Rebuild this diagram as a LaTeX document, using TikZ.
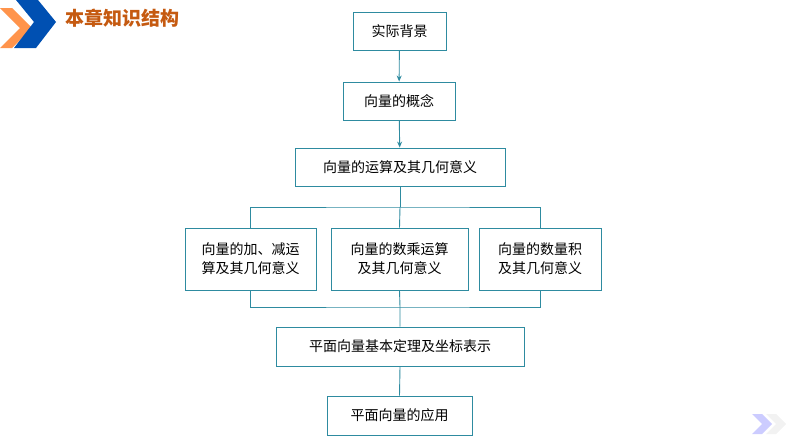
\documentclass[tikz,border=0pt]{standalone}
\usepackage{fontspec}
\setmainfont{Noto Sans CJK SC}
\newfontfamily\cjkb[BoldFont=*]{Noto Sans CJK SC}
\usetikzlibrary{arrows.meta}
\definecolor{teal}{HTML}{2E8BA0}
\definecolor{hdr}{HTML}{C55A11}
\tikzset{box/.style={draw=teal,line width=0.9pt,fill=white,align=center,font=\fontsize{14}{19}\selectfont,inner sep=0pt},
 ln/.style={teal,line width=0.9pt},
 ar/.style={ln,-{Stealth[length=6pt,width=5pt]}}}
\begin{document}
\begin{tikzpicture}[x=1pt,y=-1pt]
\useasboundingbox (0,0) rectangle (794,447);
\fill[orange!80!red!70] (0,8)--(12,8)--(32,28)--(12,48)--(0,48)--(20,28)--cycle;
\fill[blue!55!cyan!70!black] (16,0)--(38,0)--(56,22)--(36,48)--(14,48)--(34,22)--cycle;
\node[anchor=west,text=hdr,font=\fontsize{19}{22}\selectfont\bfseries] (h) at (62,18) {本章知识结构};
\fill[blue!20] (752,414)--(762,414)--(772,424)--(762,434)--(752,434)--(762,424)--cycle;
\fill[gray!10] (766,414)--(776,414)--(786,424)--(776,434)--(766,434)--(776,424)--cycle;
\node[box,minimum width=93,minimum height=38] (a) at (399.5,31) {实际背景};
\node[box,minimum width=112,minimum height=38] (b) at (399,101) {向量的概念};
\node[box,minimum width=210,minimum height=38] (c) at (400,167) {向量的运算及其几何意义};
\node[box,minimum width=131,minimum height=62] (l) at (250.5,259) {向量的加、减运\\算及其几何意义};
\node[box,minimum width=137,minimum height=62] (m) at (399.5,259) {向量的数乘运算\\及其几何意义};
\node[box,minimum width=122,minimum height=62] (r) at (540,259) {向量的数量积\\及其几何意义};
\node[box,minimum width=248,minimum height=39] (d) at (400,346.5) {平面向量基本定理及坐标表示};
\node[box,minimum width=145,minimum height=39] (e) at (399.5,415.5) {平面向量的应用};
\draw[ar] (a) -- (b);
\draw[ar] (b) -- (c);
\coordinate (t) at (400,207);
\coordinate (u) at (400,307);
\draw[ln] (c.south) -- (t);
\draw[ln] (l.north) |- (t) -| (r.north);
\draw[ln] (t) -- (m.north);
\draw[ln] (l.south) |- (u) -| (r.south);
\draw[ln] (m.south) -- (u) -- (d.north);
\draw[ln] (d.south) -- (e.north);
\end{tikzpicture}
\end{document}
